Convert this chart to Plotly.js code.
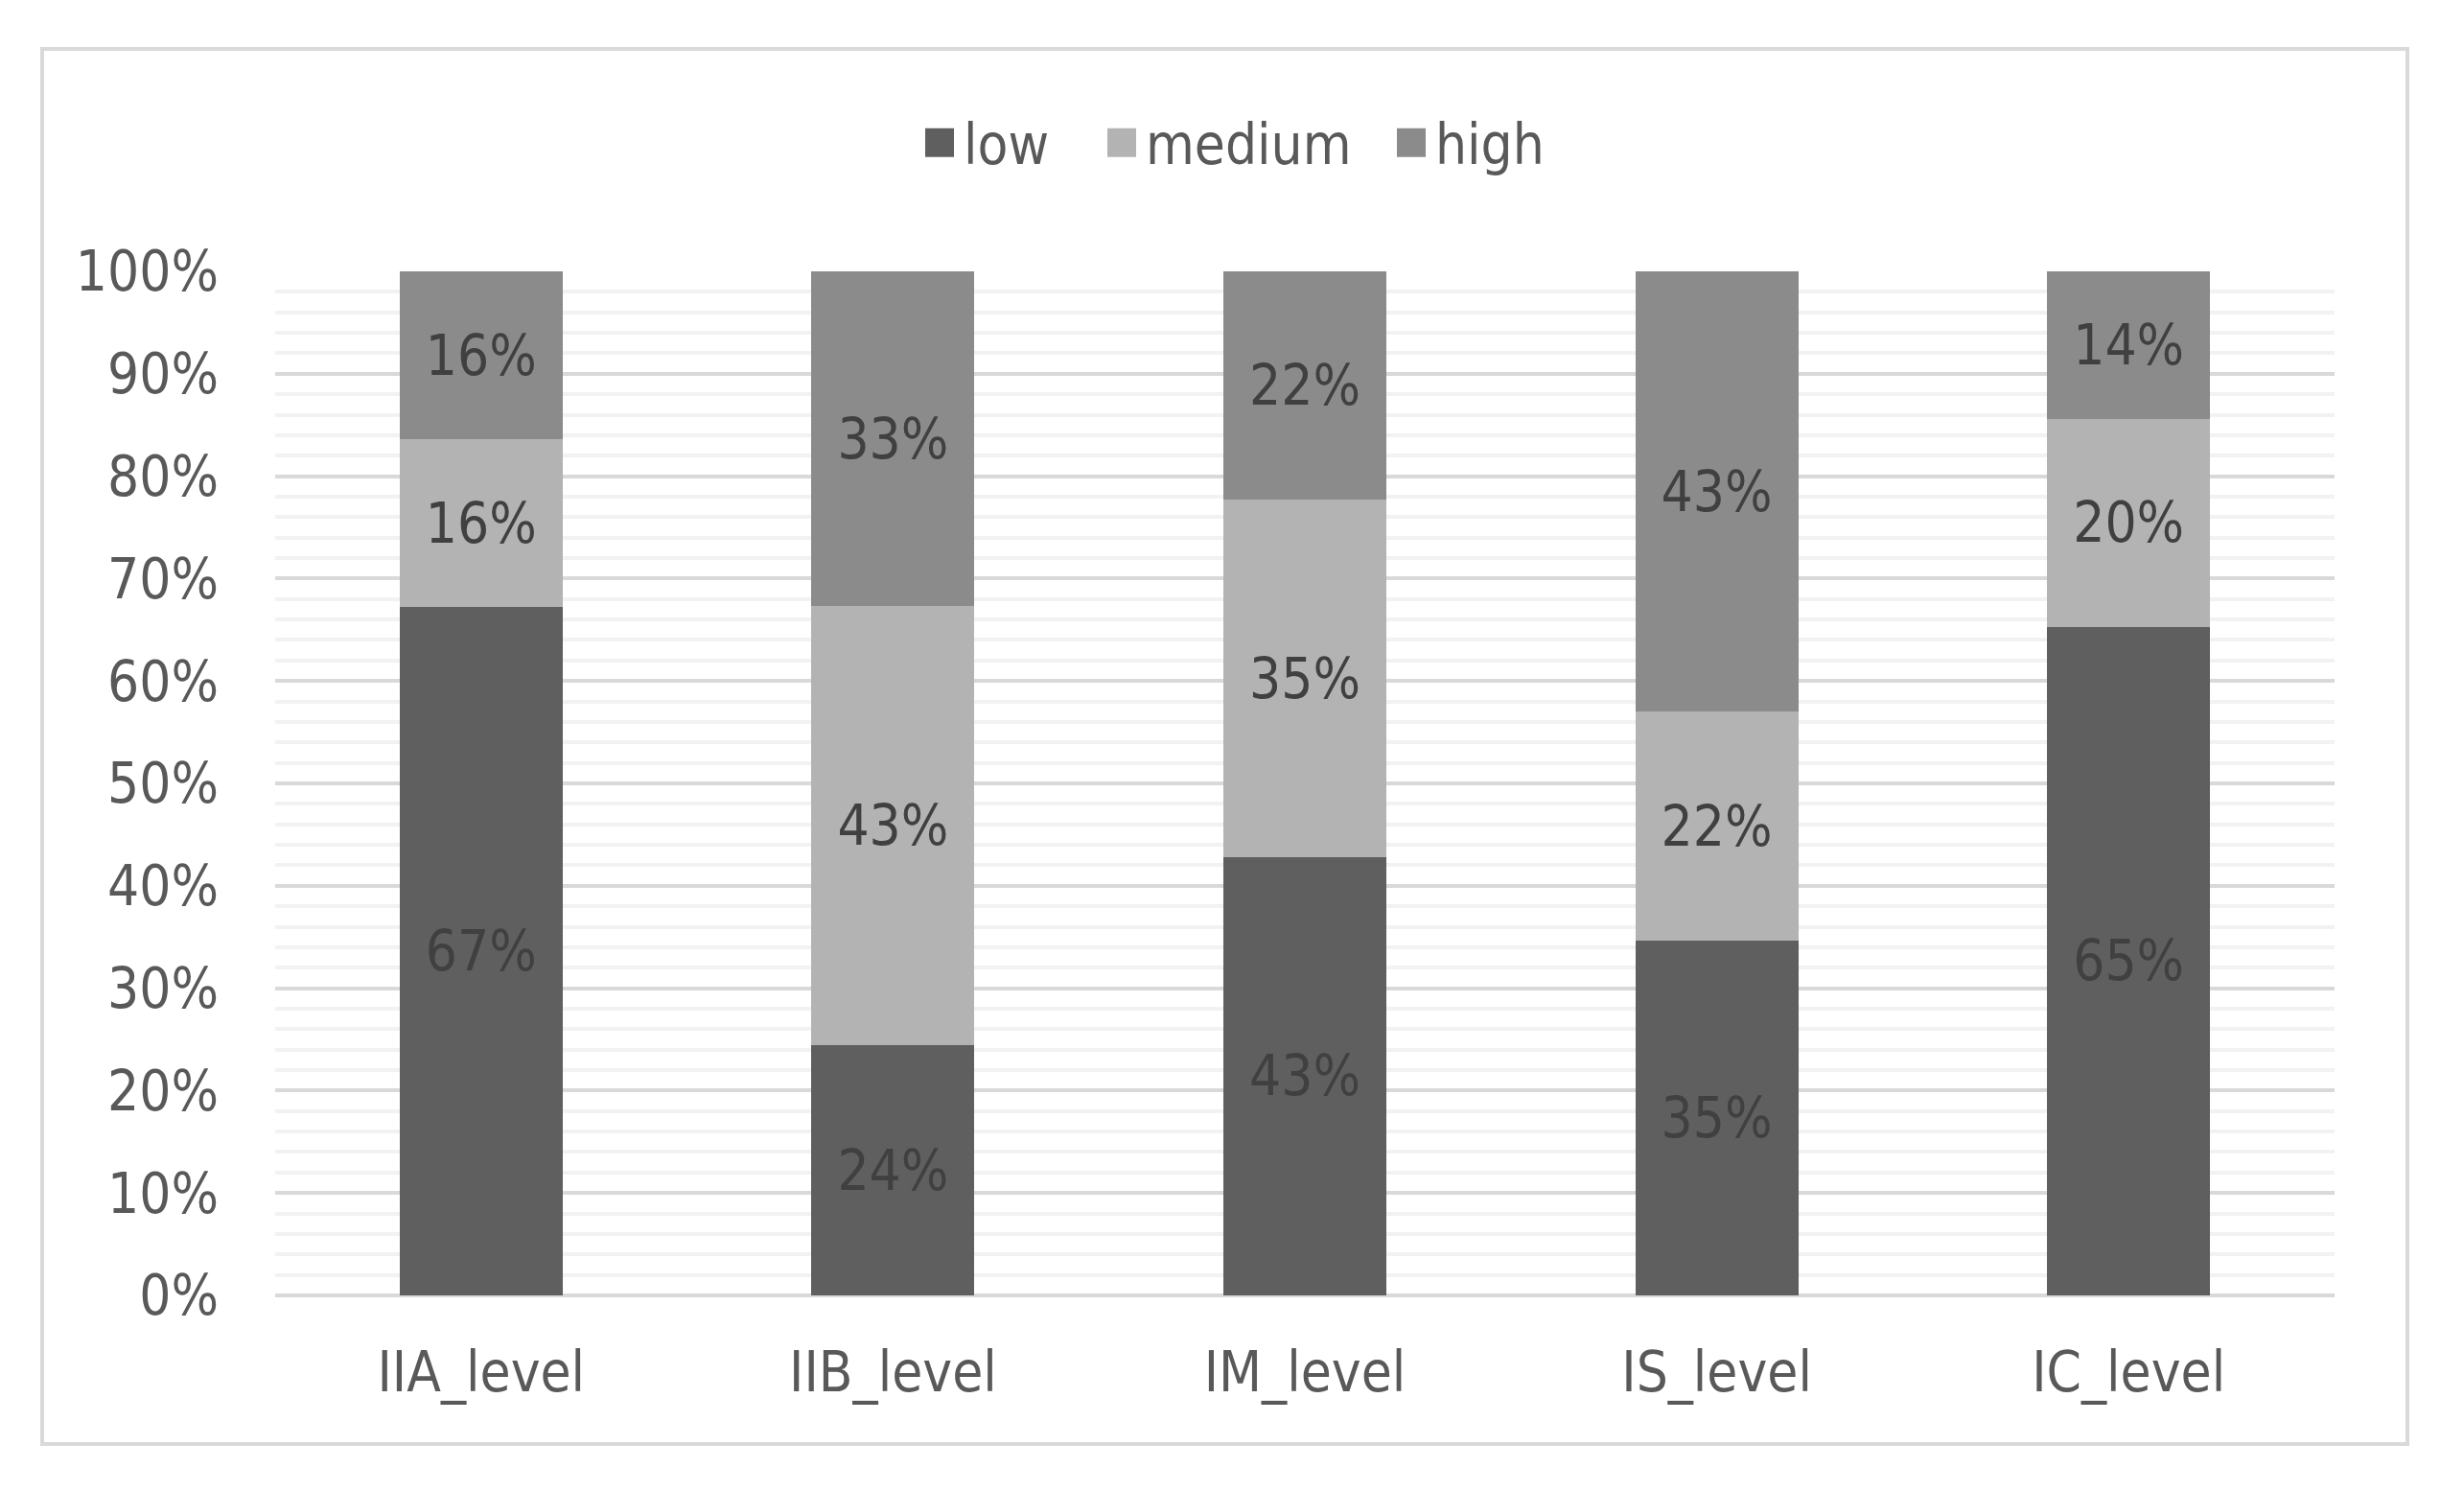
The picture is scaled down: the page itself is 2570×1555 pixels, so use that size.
<!DOCTYPE html>
<html>
<head>
<meta charset="utf-8">
<script src="https://cdn.plot.ly/plotly-3.0.1.min.js"></script>
<style>html,body{margin:0;padding:0;background:#fff;}#chart{width:2570px;height:1555px;}</style>
</head>
<body>
<div id="chart"></div>
<script>
const categories = ["IIA_level", "IIB_level", "IM_level", "IS_level", "IC_level"];
const seriesNames = ["low", "medium", "high"];
const lowValues = [0.672, 0.244, 0.428, 0.346, 0.653];
const mediumValues = [0.164, 0.429, 0.349, 0.224, 0.203];
const highValues = [0.164, 0.327, 0.223, 0.430, 0.144];
const yTickValues = [0, 0.1, 0.2, 0.3, 0.4, 0.5, 0.6, 0.7, 0.8, 0.9, 1.0];
const yTickLabels = ["0%", "10%", "20%", "30%", "40%", "50%", "60%", "70%", "80%", "90%", "100%"];

const colors = ["#5f5f5f", "#b3b3b3", "#8b8b8b"];
const FONT = '"DejaVu Sans Condensed", "Liberation Sans Narrow", sans-serif';
const values = [lowValues, mediumValues, highValues];
const legendIds = ['legend', 'legend2', 'legend3'];

const traces = [];
values.forEach((v, i) => {
  traces.push({
    type: 'bar',
    name: seriesNames[i],
    x: categories,
    y: v,
    marker: {color: colors[i], line: {width: 0}},
    texttemplate: '%{y:.0%}',
    textposition: 'inside',
    insidetextanchor: 'middle',
    constraintext: 'none',
    textfont: {family: FONT, size: 58, color: '#404040'},
    showlegend: false,
    hoverinfo: 'x+y'
  });
});
values.forEach((v, i) => {
  traces.push({
    type: 'scatter',
    mode: 'markers',
    name: seriesNames[i],
    x: [null],
    y: [null],
    marker: {symbol: 'square', size: 16, color: colors[i]},
    showlegend: true,
    legend: legendIds[i],
    hoverinfo: 'skip'
  });
});

const L = 287, R = 2435, T = 283, B = 1351;
const W = R - L, H = B - T;
const px = x => (x - L) / W;
const py = y => (B - y) / H;

function legendAt(xPix) {
  return {
    orientation: 'h',
    x: px(xPix), y: py(149),
    xanchor: 'left', yanchor: 'middle',
    itemwidth: 40,
    font: {family: FONT, size: 58, color: '#595959'},
    bgcolor: 'rgba(0,0,0,0)',
    borderwidth: 0
  };
}

const layout = {
  width: 2570,
  height: 1555,
  margin: {l: L, r: 2570 - R, t: T, b: 1555 - B, pad: 0},
  paper_bgcolor: '#ffffff',
  plot_bgcolor: '#ffffff',
  barmode: 'stack',
  bargap: 0.604,
  font: {family: FONT, size: 58, color: '#595959'},
  showlegend: true,
  legend: legendAt(955),
  legend2: legendAt(1145),
  legend3: legendAt(1447),
  xaxis: {
    type: 'category',
    showgrid: false,
    showline: false,
    zeroline: false,
    ticks: '',
    tickfont: {family: FONT, size: 58, color: '#595959'},
    ticklabelstandoff: 41,
    fixedrange: true
  },
  yaxis: {
    range: [0, 1],
    tickvals: yTickValues,
    ticktext: yTickLabels,
    showgrid: true,
    gridcolor: '#d9d9d9',
    gridwidth: 4,
    zeroline: true,
    zerolinecolor: '#d9d9d9',
    zerolinewidth: 4,
    showline: false,
    ticks: '',
    tickfont: {family: FONT, size: 58, color: '#595959'},
    ticklabelstandoff: 58,
    minor: {dtick: 0.02, showgrid: true, gridcolor: '#f2f2f2', gridwidth: 4, ticks: ''},
    fixedrange: true
  },
  shapes: [{
    type: 'rect', xref: 'paper', yref: 'paper',
    x0: px(44), x1: px(2511), y0: py(1506), y1: py(51),
    line: {color: '#d9d9d9', width: 4},
    fillcolor: 'rgba(0,0,0,0)',
    layer: 'below'
  }]
};

Plotly.newPlot('chart', traces, layout, {displayModeBar: false, staticPlot: true}).then(() => {
  document.querySelectorAll('.legendpoints path').forEach(p => {
    const t = p.getAttribute('transform') || '';
    p.setAttribute('transform', t + ' scale(1.875)');
  });
});
</script>
</body>
</html>
